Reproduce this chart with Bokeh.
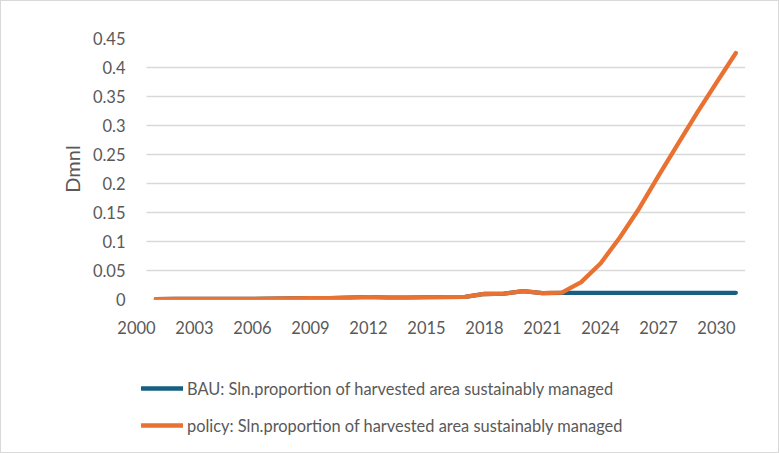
from bokeh.plotting import figure
from bokeh.layouts import column
from bokeh.models import Range1d, FixedTicker, Legend, LegendItem, NumeralTickFormatter
from bokeh.embed import file_html
from bokeh.resources import INLINE

years = list(range(2001, 2032))
policy = [0.0005, 0.001, 0.001, 0.001, 0.001, 0.001, 0.0015, 0.002, 0.0025, 0.0025,
          0.003, 0.004, 0.003, 0.003, 0.0035, 0.004, 0.0045, 0.0095, 0.010, 0.0145,
          0.011, 0.012, 0.030, 0.062, 0.107, 0.157, 0.213, 0.268, 0.322, 0.374, 0.425]
bau = [0.0005, 0.001, 0.001, 0.001, 0.001, 0.001, 0.0015, 0.002, 0.0025, 0.0025,
       0.003, 0.004, 0.003, 0.003, 0.0035, 0.004, 0.0045, 0.0095, 0.010, 0.0145,
       0.011, 0.0115, 0.0115, 0.0115, 0.0115, 0.0115, 0.0115, 0.0115, 0.0115, 0.0115, 0.0115]
x_ticks = [2000, 2003, 2006, 2009, 2012, 2015, 2018, 2021, 2024, 2027, 2030]
y_ticks = [0, 0.05, 0.1, 0.15, 0.2, 0.25, 0.3, 0.35, 0.4, 0.45]
labels = ["BAU: Sln.proportion of harvested area sustainably managed",
          "policy: Sln.proportion of harvested area sustainably managed"]
colors = ["#156082", "#E97132"]

FONT = "Lato"
GRAY = "#595959"

# main chart
p = figure(width=777, height=340, output_backend="svg", toolbar_location=None,
           x_range=Range1d(2000, 2031.5), y_range=Range1d(0, 0.45),
           min_border_left=135, min_border_right=33, min_border_top=37, min_border_bottom=42)
p.outline_line_color = None

p.line(years, bau, line_color=colors[0], line_width=4.3, line_cap="round", line_join="round")
p.line(years, policy, line_color=colors[1], line_width=4.3, line_cap="round", line_join="round")

xa = p.xaxis[0]
xa.ticker = FixedTicker(ticks=x_ticks)
xa.axis_line_color = None
xa.major_tick_line_color = None
xa.minor_tick_line_color = None
xa.major_label_standoff = 15
xa.major_label_text_font = FONT
xa.major_label_text_font_size = "16.5px"
xa.major_label_text_color = GRAY

ya = p.yaxis[0]
ya.ticker = FixedTicker(ticks=y_ticks)
ya.formatter = NumeralTickFormatter(format="0.[00]")
ya.axis_line_color = None
ya.major_tick_line_color = None
ya.minor_tick_line_color = None
ya.major_label_standoff = 5
ya.major_label_text_font = FONT
ya.major_label_text_font_size = "16.5px"
ya.major_label_text_color = GRAY
ya.axis_label = "Dmnl"
ya.axis_label_text_font = FONT
ya.axis_label_text_font_size = "20px"
ya.axis_label_text_font_style = "normal"
ya.axis_label_text_color = GRAY
ya.axis_label_standoff = 6

p.xgrid.grid_line_color = None
yg = p.ygrid[0]
yg.ticker = FixedTicker(ticks=y_ticks)
yg.grid_line_color = "#d9d9d9"
yg.grid_line_width = 1.5
try:
    yg.cross_bounds = (2000.5, 2031.5)
except Exception:
    pass

# legend strip below the chart (its frame is aligned with the chart's frame);
# the same series are attached but fall outside this strip's ranges
pl = figure(width=777, height=111, output_backend="svg", toolbar_location=None,
            x_range=Range1d(0, 1), y_range=Range1d(0, 1),
            x_axis_location=None, y_axis_location=None, min_border=0)
pl.outline_line_color = None
pl.grid.visible = False
k_bau = pl.line(years, bau, line_color=colors[0], line_width=4.3, line_cap="round")
k_pol = pl.line(years, policy, line_color=colors[1], line_width=4.3, line_cap="round")

legend = Legend(items=[LegendItem(label=labels[0], renderers=[k_bau]),
                       LegendItem(label=labels[1], renderers=[k_pol])],
                location=(5, 17), orientation="vertical",
                background_fill_alpha=0, border_line_alpha=0, padding=0, margin=0,
                spacing=17, glyph_width=42, glyph_height=20, label_height=20,
                label_standoff=4, label_text_font=FONT, label_text_font_size="16.4px",
                label_text_color=GRAY)
pl.add_layout(legend, "center")

layout = column(p, pl, spacing=0, styles={"border": "1px solid #d9d9d9"})

open("out.html", "w").write(file_html(layout, INLINE))
